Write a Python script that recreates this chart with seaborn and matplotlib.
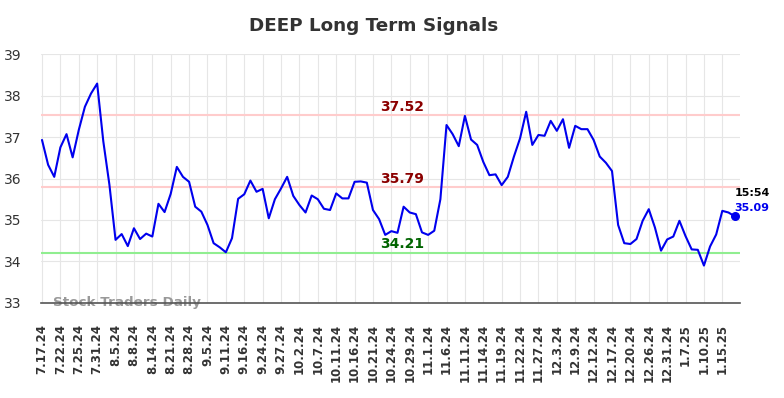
import seaborn as sns
import matplotlib.pyplot as plt
import numpy as np
import pandas as pd

# Daily closing prices (one per trading day)
prices = [
    36.93, 36.33, 36.04, 36.75, 37.07, 36.51, 37.17, 37.73, 38.05, 38.29,
    36.90, 35.85, 34.52, 34.66, 34.37, 34.80, 34.54, 34.67, 34.60, 35.39,
    35.19, 35.63, 36.28, 36.04, 35.92, 35.32, 35.20, 34.88, 34.44, 34.34,
    34.22, 34.56, 35.51, 35.62, 35.95, 35.68, 35.75, 35.04, 35.50, 35.76,
    36.04, 35.58, 35.36, 35.18, 35.59, 35.50, 35.27, 35.24, 35.64, 35.52,
    35.52, 35.92, 35.93, 35.90, 35.24, 35.02, 34.64, 34.73, 34.69, 35.32,
    35.18, 35.14, 34.70, 34.64, 34.74, 35.50, 37.29, 37.07, 36.78, 37.51,
    36.94, 36.81, 36.40, 36.08, 36.10, 35.84, 36.04, 36.53, 36.97, 37.61,
    36.81, 37.05, 37.03, 37.39, 37.15, 37.43, 36.74, 37.27, 37.19, 37.19,
    36.93, 36.53, 36.38, 36.18, 34.88, 34.44, 34.42, 34.54, 34.98, 35.26,
    34.82, 34.26, 34.53, 34.60, 34.98, 34.61, 34.29, 34.28, 33.90, 34.36,
    34.65, 35.22, 35.18, 35.09,
]

tick_labels = [
    '7.17.24', '7.22.24', '7.25.24', '7.31.24', '8.5.24', '8.8.24', '8.14.24',
    '8.21.24', '8.28.24', '9.5.24', '9.11.24', '9.16.24', '9.24.24', '9.27.24',
    '10.2.24', '10.7.24', '10.11.24', '10.16.24', '10.21.24', '10.24.24',
    '10.29.24', '11.1.24', '11.6.24', '11.11.24', '11.14.24', '11.19.24',
    '11.22.24', '11.27.24', '12.3.24', '12.9.24', '12.12.24', '12.17.24',
    '12.20.24', '12.26.24', '12.31.24', '1.7.25', '1.10.25', '1.15.25',
]
tick_step = 3

upper_levels = [37.52, 35.79]
lower_level = 34.21
last_time = '15:54'

df = pd.DataFrame({'idx': np.arange(len(prices)), 'price': prices})

sns.set_style('whitegrid', {'grid.color': '#e6e6e6'})
plt.rcParams['font.family'] = ['DejaVu Sans']

fig = plt.figure(figsize=(7.84, 3.98), dpi=100)
ax = fig.add_axes([0.052, 0.239, 0.892, 0.625])

# Signal levels
for lvl in upper_levels:
    ax.axhline(lvl, color='#ffcccc', linewidth=1.5, zorder=1)
ax.axhline(lower_level, color='#90ee90', linewidth=1.5, zorder=1)

sns.lineplot(data=df, x='idx', y='price', color='#0000ee', linewidth=1.5, ax=ax, zorder=3)

# Last point marker
last_i = len(prices) - 1
ax.scatter([last_i], [prices[-1]], color='#0000ee', s=30, zorder=4)

mid_x = 58.7
for lvl in upper_levels:
    ax.text(mid_x, lvl + 0.03, f'{lvl:.2f}', color='#8b0000', fontsize=10,
            fontweight='bold', ha='center', va='bottom')
ax.text(mid_x, lower_level + 0.03, f'{lower_level:.2f}', color='#006400', fontsize=10,
        fontweight='bold', ha='center', va='bottom')

ax.text(last_i, prices[-1] + 0.55, last_time, color='black', fontsize=8,
        fontweight='bold', ha='left', va='center')
ax.text(last_i, prices[-1] + 0.2, f'{prices[-1]:.2f}', color='#0000ee', fontsize=8,
        fontweight='bold', ha='left', va='center')

ax.text(1.8, 33.0, 'Stock Traders Daily', color='#999999', fontsize=9.7,
        fontweight='bold', ha='left', va='center', zorder=2)

ax.set_xlim(-0.2, 113.9)
ax.set_ylim(33, 39)
ax.set_xticks(np.arange(len(tick_labels)) * tick_step)
ax.set_xticklabels(tick_labels, rotation=90, fontsize=8.5, fontweight='bold', color='#333333')
ax.set_yticks(range(33, 40))
ax.tick_params(axis='y', labelsize=10, colors='#333333', pad=14, length=0)
ax.tick_params(axis='x', length=0, pad=15)
ax.set_xlabel('')
ax.set_ylabel('')

for side in ['left', 'right', 'top']:
    ax.spines[side].set_visible(False)
ax.spines['bottom'].set_color('#555555')
ax.spines['bottom'].set_linewidth(1.2)

fig.suptitle('DEEP Long Term Signals', x=0.477, y=0.958, fontsize=13.2,
             fontweight='bold', color='#333333')

fig.savefig('out.png', dpi=100)
